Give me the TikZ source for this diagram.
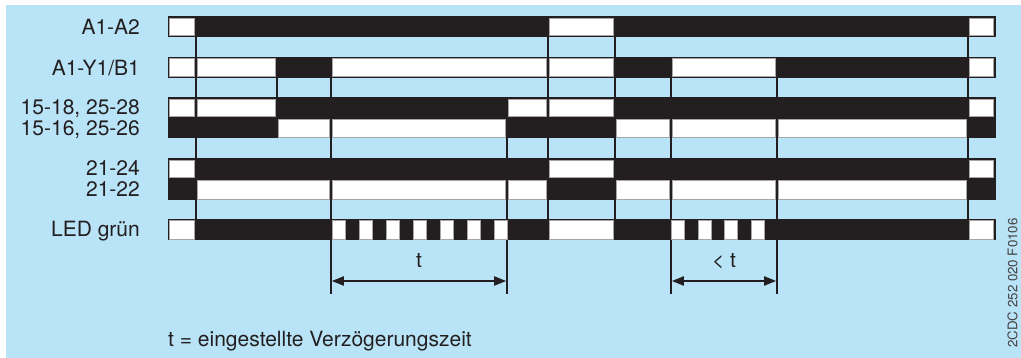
\documentclass[tikz,border=0pt]{standalone}
\usepackage{fontspec}
\setmainfont{TeX Gyre Heros}
\usetikzlibrary{arrows.meta}
\definecolor{ink}{HTML}{231F20}
\definecolor{panel}{HTML}{B9E4F8}

% one signal row: top, bottom, list of white (off) intervals a/b
\newcommand\sigrow[3]{%
  \fill[ink] (167.5,#1) rectangle (995.5,#2);
  \foreach \a/\b in {#3}
    \draw[offseg] (\a+1.4,#1+1.6) rectangle (\b-1.4,#2-1.6);
}

\begin{document}
\begin{tikzpicture}[x=1pt,y=-1pt,
  lab/.style={anchor=base east, font=\fontsize{21}{25}\selectfont, text=ink, inner sep=0pt},
  note/.style={anchor=base, font=\fontsize{21}{25}\selectfont, text=ink, inner sep=0pt},
  offseg/.style={fill=white, draw=ink!40, line width=0.5pt},
  tick/.style={draw=ink, line width=1.7pt},
  dim/.style={draw=ink, line width=2pt, {Triangle[length=12pt,width=9pt]}-{Triangle[length=12pt,width=9pt]}}]

\useasboundingbox (0,0) rectangle (1021,358);
\fill[white] (0,0) rectangle (1021,358);
\fill[panel] (6,5) rectangle (1021,358);

% switching instants
\foreach \x/\ya/\yb in {196/16.5/240, 548/16.5/240, 615/16.5/240, 968/16.5/240,
                        277/57/138, 331/57/294, 671/57/294, 777/57/294,
                        507/97.5/294}
  \draw[tick] (\x,\ya) -- (\x,\yb);

% signal rows
\sigrow{16.5}{37}{168/196,548/615,968/995}
\sigrow{57}{78}{168/196,196/277,331/548,548/615,671/777,968/995}
\sigrow{97.5}{117.5}{168/196,196/277,507/548,548/615,968/995}
\sigrow{117.5}{138.5}{277/331,331/507,615/671,671/777,777/968}
\sigrow{158.3}{179}{168/196,548/615,968/995}
\sigrow{179}{200.5}{196/331,331/507,507/548,615/671,671/777,777/968}
\sigrow{219}{240.5}{168/196,548/615,968/995}

% LED flashing during the delay
\foreach \k in {0,...,6}
  \draw[offseg] (332.3+27*\k,220.6) rectangle (345+27*\k,238.9);
\foreach \k in {0,...,3}
  \draw[offseg] (671.7+26.5*\k,220.6) rectangle (684.5+26.5*\k,238.9);

% row labels
\node[lab] (lA) at (140,34.5) {A1-A2};
\node[lab] (lB) at (140,75.5) {A1-Y1/B1};
\node[lab] (lC) at (140,115) {15-18, 25-28};
\node[lab] (lD) at (140,135.5) {15-16, 25-26};
\node[lab] (lE) at (140,176) {21-24};
\node[lab] (lF) at (140,196.5) {21-22};
\node[lab] (lG) at (140,237) {LED grün};

% delay dimensions
\coordinate (ta) at (331.8,281);
\coordinate (tb) at (506.2,281);
\draw[dim] (ta) -- (tb);
\node[note] (tl) at (419,268) {t};
\coordinate (ua) at (671.8,281);
\coordinate (ub) at (776.2,281);
\draw[dim] (ua) -- (ub);
\node[note] (ul) at (724,268) {< t};

% legend and drawing number
\node[anchor=base west, font=\fontsize{21}{25}\selectfont, text=ink, inner sep=0pt] (leg) at (168,347) {t = eingestellte Verzögerungszeit};
\node[rotate=90, font=\fontsize{13.3}{15}\selectfont, text=ink!85, inner sep=0pt] (code) at (1012.5,283) {2CDC 252 020 F0106};
\end{tikzpicture}
\end{document}
